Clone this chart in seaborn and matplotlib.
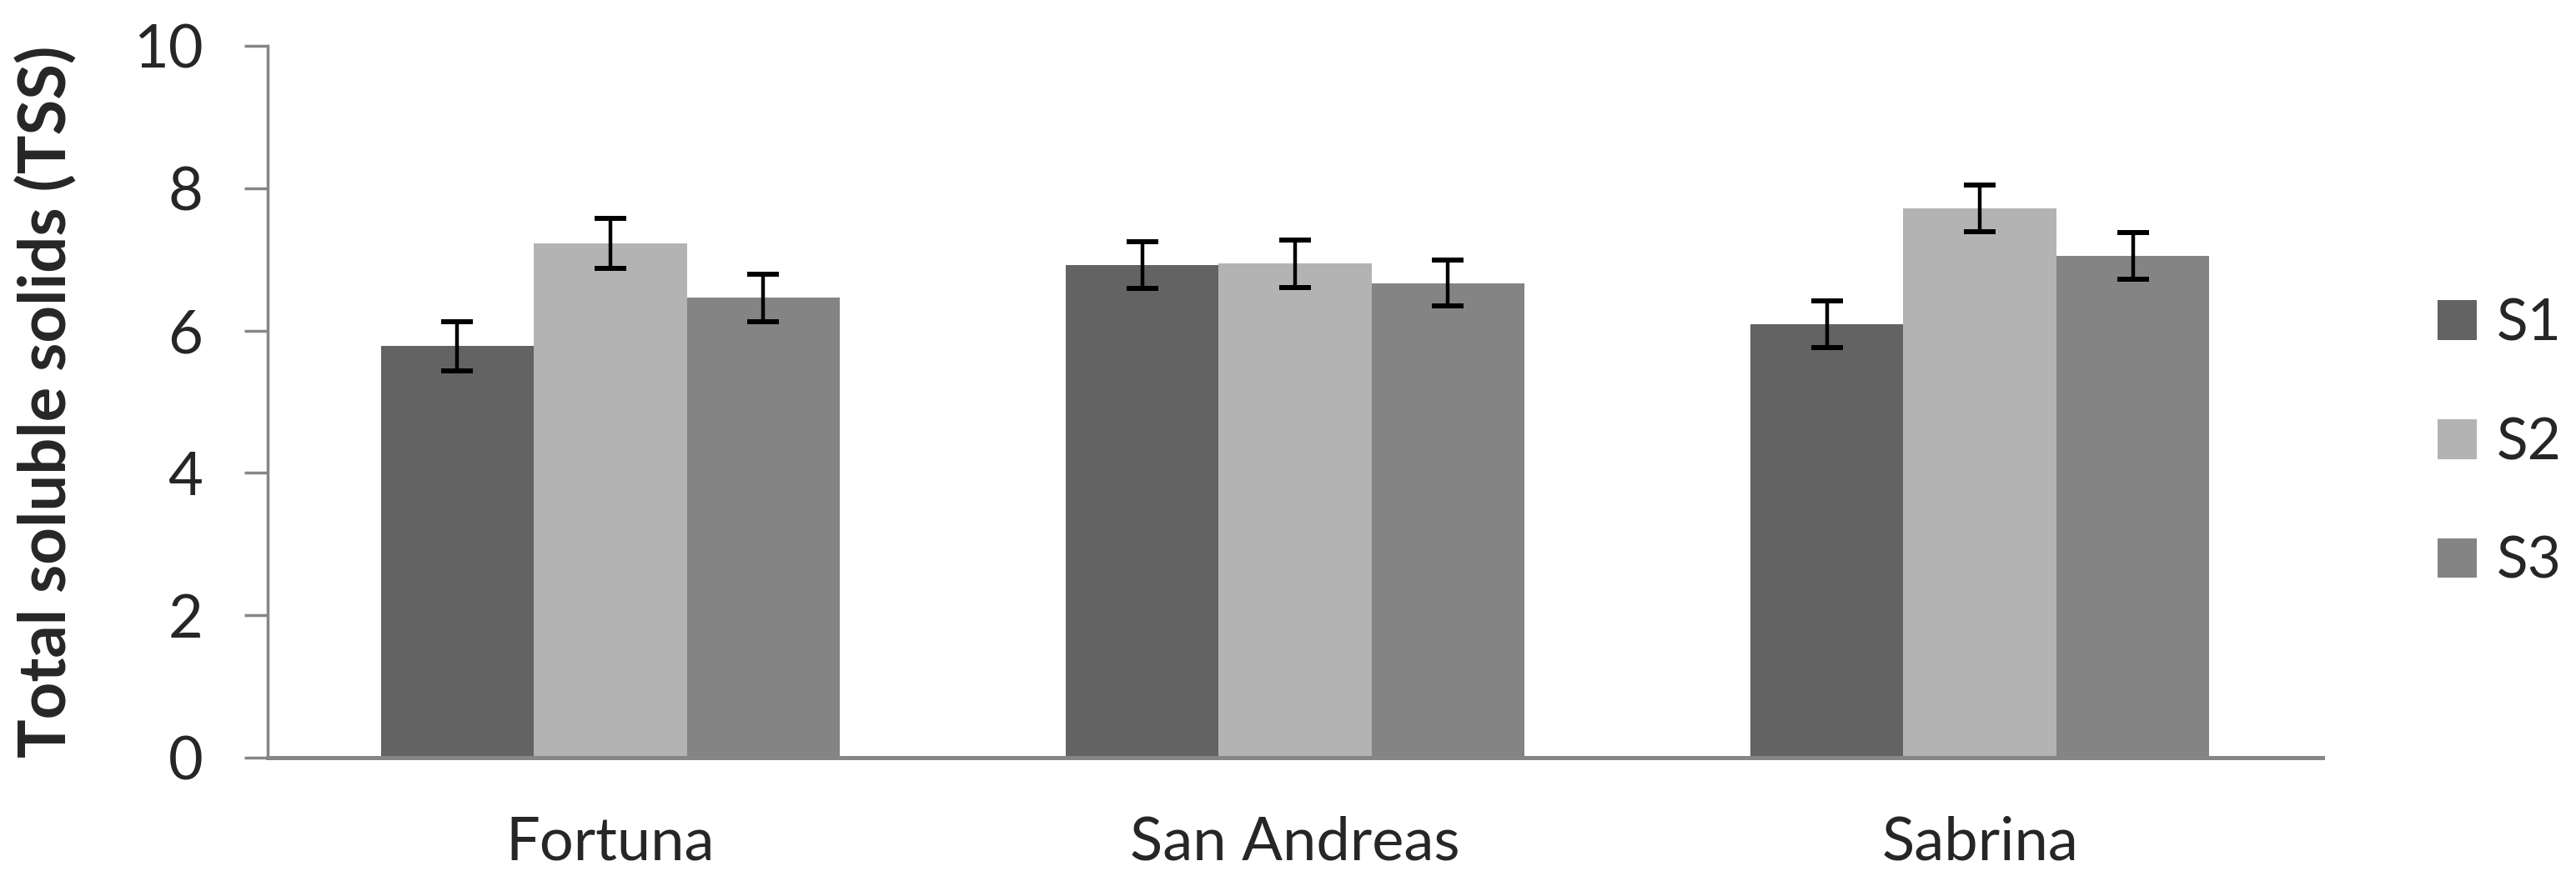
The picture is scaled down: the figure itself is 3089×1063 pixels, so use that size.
import matplotlib
matplotlib.use("Agg")
import matplotlib.pyplot as plt
import seaborn as sns
import pandas as pd

## DATA
cultivars = ["Fortuna", "San Andreas", "Sabrina"]
series = ["S1", "S2", "S3"]
s1_vals = [5.78, 6.92, 6.09]
s2_vals = [7.23, 6.94, 7.72]
s3_vals = [6.46, 6.67, 7.05]
s1_err = [0.34, 0.33, 0.33]
s2_err = [0.35, 0.33, 0.33]
s3_err = [0.33, 0.32, 0.33]
colors = ["#636363", "#b3b3b3", "#848484"]

rows = []
for s, vals in zip(series, [s1_vals, s2_vals, s3_vals]):
    for c, v in zip(cultivars, vals):
        rows.append({"cultivar": c, "series": s, "tss": v})
df = pd.DataFrame(rows)
errs = {"S1": s1_err, "S2": s2_err, "S3": s3_err}

sns.set_style("white")
plt.rcParams['font.family'] = ['Lato', 'DejaVu Sans']

fig = plt.figure(figsize=(30.89, 10.63), dpi=100)
ax = fig.add_axes([0.104, 0.145, 0.7975, 0.803])

sns.barplot(data=df, x="cultivar", y="tss", hue="series", order=cultivars,
            hue_order=series, palette=colors, width=0.67, gap=0,
            errorbar=None, saturation=1, linewidth=0, ax=ax)

# error bars at the bar centres
bars = ax.patches[:len(series) * len(cultivars)]
for i, s in enumerate(series):
    for j in range(len(cultivars)):
        p = bars[i * len(cultivars) + j]
        ax.errorbar(p.get_x() + p.get_width() / 2, p.get_height(), yerr=errs[s][j],
                    fmt="none", ecolor="black", elinewidth=3.2, capsize=14, capthick=4.3)

ax.set_xlim(-0.5, 2.5)
ax.set_ylim(0, 10)
ax.set_yticks(range(0, 11, 2))
ax.set_xlabel("")
ax.set_ylabel("Total soluble solids (TSS)", fontsize=56, fontweight="bold", labelpad=48)

sns.despine(ax=ax)
ax.spines["left"].set_color("#868686")
ax.spines["left"].set_linewidth(2.5)
ax.spines["bottom"].set_color("#868686")
ax.spines["bottom"].set_linewidth(3.6)
ax.tick_params(axis="y", direction="out", length=20, width=2.5, color="#868686",
               labelsize=52, pad=36, left=True)
ax.tick_params(axis="x", length=0, labelsize=52, pad=50)

handles, labels = ax.get_legend_handles_labels()
ax.legend(handles, labels, loc="center left", bbox_to_anchor=(0.926, 0.5),
          bbox_transform=fig.transFigure, frameon=False, fontsize=50,
          handlelength=0.68, handleheight=0.68, handletextpad=0.34, labelspacing=1.15)

plt.savefig("out.png", dpi=100)
